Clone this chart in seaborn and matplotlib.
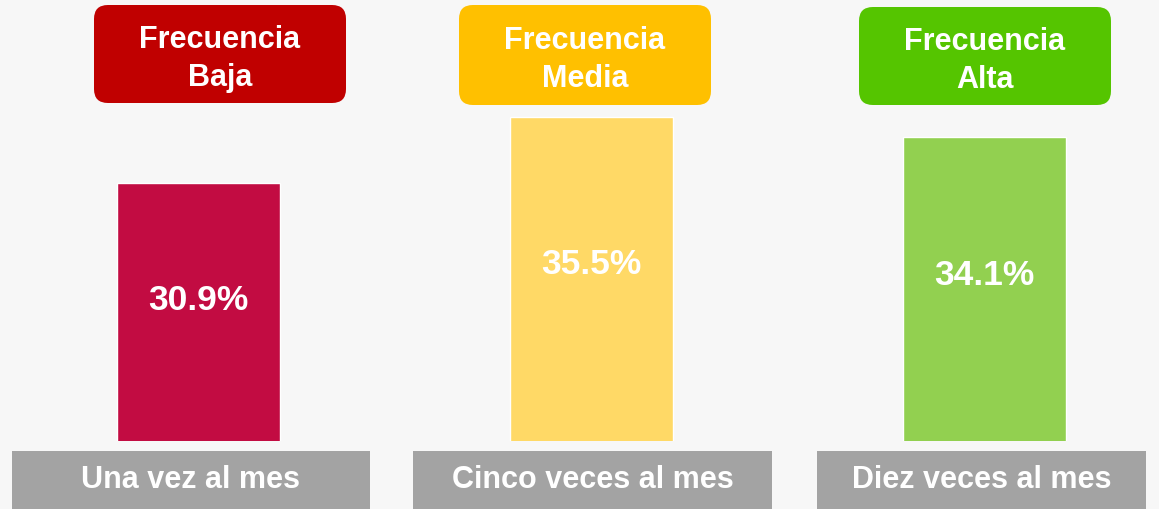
import matplotlib
matplotlib.use('Agg')
import matplotlib.pyplot as plt
import seaborn as sns
import pandas as pd
from matplotlib.patches import FancyBboxPatch, Rectangle

# ====== DATA

categories = ['Una vez al mes', 'Cinco veces al mes', 'Diez veces al mes']
headers = ['Frecuencia\nBaja', 'Frecuencia\nMedia', 'Frecuencia\nAlta']
values = [30.9, 35.5, 34.1]

bar_colors = ['#C20C42', '#FFD966', '#92D050']
header_colors = ['#C00000', '#FFC000', '#55C500']
BG = '#F7F7F7'
GRAY = '#A3A3A3'

df = pd.DataFrame({'categoria': categories, 'valor': values})

# ====== FIGURE

W, H = 1159, 509
sns.set_theme(style='white')
plt.rcParams['font.family'] = ['Liberation Sans', 'DejaVu Sans']

fig = plt.figure(figsize=(W / 100, H / 100), dpi=100, facecolor=BG)
# axes covers only the bar area (bars start at y=441px from top)
ax = fig.add_axes([0, 68 / H, 1, 441 / H])
ax.set_facecolor('none')

sns.barplot(data=df, x='categoria', y='valor', hue='categoria', palette=bar_colors,
            order=categories, width=0.417, legend=False, saturation=1, ax=ax)

ylow = 13.0
ax.set_ylim(ylow, 43.65)
ax.set_xlim(-0.505, 2.444)
ax.axis('off')

# percentage labels inside the bars
for i, v in enumerate(values):
    ax.text(i, v - 0.455 * (v - ylow), f'{v:.1f}%', ha='center', va='center',
            color='white', fontsize=25.5, fontweight='bold')

# ====== HEADER BOXES AND BOTTOM LABELS (figure pixels)

def px(x0, y0, x1, y1):
    # top-left pixel box -> figure fraction (x, y, w, h)
    return x0 / W, 1 - y1 / H, (x1 - x0) / W, (y1 - y0) / H

header_boxes = [(94, 5, 346, 103), (459, 5, 711, 105), (859, 7, 1111, 105)]
for (x0, y0, x1, y1), txt, col in zip(header_boxes, headers, header_colors):
    x, y, w, h = px(x0, y0, x1, y1)
    patch = FancyBboxPatch((x, y), w, h, boxstyle='round,pad=0,rounding_size=0.012',
                           mutation_aspect=W / H, transform=fig.transFigure,
                           facecolor=col, edgecolor='none')
    fig.patches.append(patch)
    fig.text(x + w / 2, y + h / 2 - 5 / H, txt, ha='center', va='center', color='white',
             fontsize=22, fontweight='bold', linespacing=1.38)

label_boxes = [(12, 451, 370, 509), (413, 451, 772, 509), (817, 451, 1146, 509)]
for (x0, y0, x1, y1), txt in zip(label_boxes, categories):
    x, y, w, h = px(x0, y0, x1, y1)
    fig.patches.append(Rectangle((x, y), w, h, transform=fig.transFigure,
                                 facecolor=GRAY, edgecolor='none'))
    fig.text(x + w / 2, y + h / 2, txt, ha='center', va='center', color='white',
             fontsize=22, fontweight='bold')

fig.savefig('out.png', dpi=100, facecolor=BG)
plt.close()
